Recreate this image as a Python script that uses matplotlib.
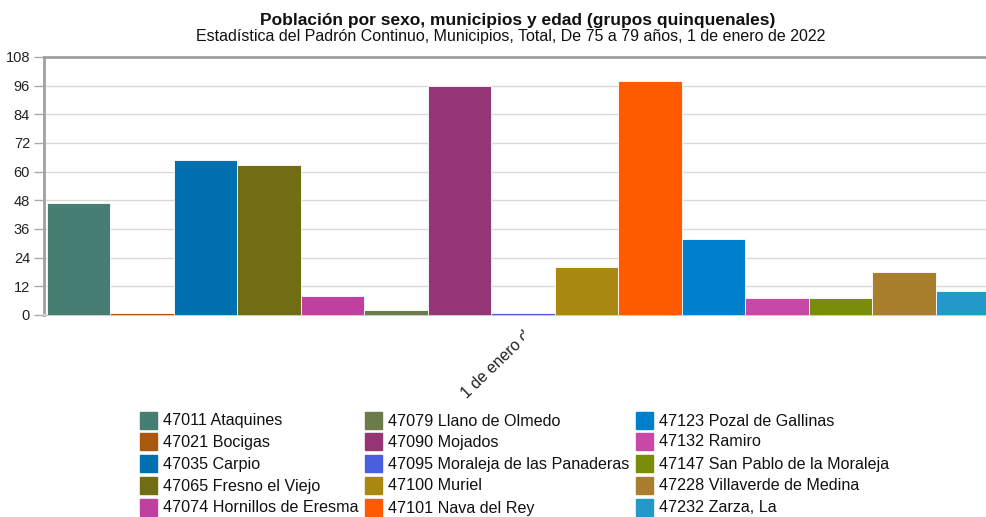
import matplotlib
matplotlib.use("Agg")
import matplotlib.pyplot as plt
from matplotlib.patches import Rectangle
from matplotlib.transforms import Bbox

plt.rcParams["font.family"] = ["Liberation Sans", "DejaVu Sans"]

municipios = ["47011 Ataquines", "47021 Bocigas", "47035 Carpio", "47065 Fresno el Viejo",
              "47074 Hornillos de Eresma", "47079 Llano de Olmedo", "47090 Mojados",
              "47095 Moraleja de las Panaderas", "47100 Muriel", "47101 Nava del Rey",
              "47123 Pozal de Gallinas", "47132 Ramiro", "47147 San Pablo de la Moraleja",
              "47228 Villaverde de Medina", "47232 Zarza, La"]
valores = [47, 1, 65, 63, 8, 2, 96, 1, 20, 98, 32, 7, 7, 18, 10]
colores = ["#467e74", "#a8590f", "#0070b0", "#706d12", "#c040a0", "#6c7b4a", "#943576",
           "#4b5ee0", "#a88812", "#ff5a00", "#0080cc", "#c848a8", "#7a8c0a", "#a97e2c",
           "#2299c8"]
yticks = list(range(0, 109, 12))
categoria = "1 de enero de 2022"

W, H = 987, 517
fig = plt.figure(figsize=(W / 100, H / 100), dpi=100)
ax = fig.add_axes([44 / W, 1 - 315 / H, 955.5 / W, 258 / H])

for i, (v, c) in enumerate(zip(valores, colores)):
    ax.bar(i, v, width=1, align="edge", color=c, edgecolor="white", linewidth=0.6, zorder=3)

ax.set_xlim(-0.047, 15.0)
ax.set_ylim(0, 108)
ax.set_yticks(yticks)
ax.set_xticks([])
ax.yaxis.grid(True, color="#d9d9d9", lw=1, zorder=0)
ax.tick_params(axis="y", length=7, width=1, color="#aaaaaa", labelsize=10.5, labelcolor="#222222", pad=3)
ax.spines["right"].set_visible(False)
ax.spines["left"].set_color("#a0a0a0")
ax.spines["left"].set_linewidth(2)
ax.spines["top"].set_color("#a0a0a0")
ax.spines["top"].set_linewidth(2)
ax.spines["bottom"].set_color("#cccccc")
ax.spines["bottom"].set_linewidth(1.5)

# x category label, rotated and cut like the original
t = fig.text(467 / W, 1 - 399 / H, categoria, rotation=44, rotation_mode="anchor",
             ha="left", va="baseline", fontsize=11.5, color="#222222")
t.set_clip_box(Bbox([[0, 0], [524, H]]))
t.set_clip_on(True)

fig.text(518 / W, 1 - 20 / H, "Población por sexo, municipios y edad (grupos quinquenales)",
         ha="center", va="center", fontsize=12.5, fontweight="bold", color="#111111")
fig.text(511 / W, 1 - 37 / H, "Estadística del Padrón Continuo, Municipios, Total, De 75 a 79 años, 1 de enero de 2022",
         ha="center", va="center", fontsize=11.5, color="#111111")

# legend: 3 columns x 5 rows
col_x = [140, 365, 636]
row_y = [421, 442, 464, 486, 508]
for k, (name, c) in enumerate(zip(municipios, colores)):
    cx = col_x[k // 5]
    ry = row_y[k % 5]
    fig.patches.append(Rectangle((cx / W, 1 - (ry + 8) / H), 17 / W, 17 / H,
                                 transform=fig.transFigure, color=c))
    fig.text((cx + 23) / W, 1 - ry / H, name, ha="left", va="center",
             fontsize=11.6, color="#111111")

fig.savefig("out.png", dpi=100)
